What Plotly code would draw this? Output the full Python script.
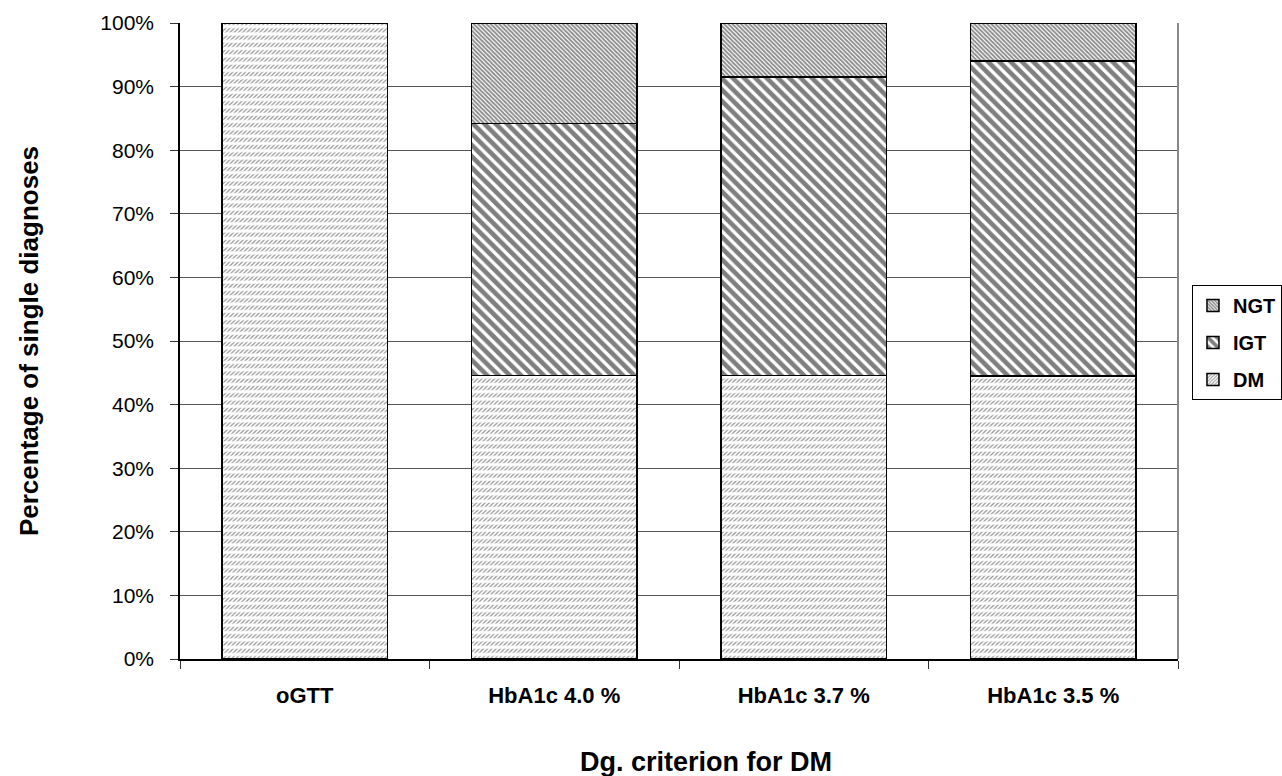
import plotly.graph_objects as go

# Diagnostic criterion categories and the share of each diagnosis (%)
categories = ["oGTT", "HbA1c 4.0 %", "HbA1c 3.7 %", "HbA1c 3.5 %"]
dm = [100.0, 44.6, 44.6, 44.5]
igt = [0.0, 39.6, 46.9, 49.5]
ngt = [0.0, 15.8, 8.5, 6.0]
y_ticks = [0, 10, 20, 30, 40, 50, 60, 70, 80, 90, 100]
y_tick_labels = [f"{v}%" for v in y_ticks]

BAR_GAP = 0.336
FONT = "Liberation Sans, Arial, sans-serif"
outline = dict(color="black", width=1.5)

fig = go.Figure()

# Stacked segments, bottom to top
fig.add_trace(go.Bar(
    name="DM", x=categories, y=dm, legendgroup="dm", legendrank=3,
    marker=dict(color="white", line=outline,
                pattern=dict(shape="/", fgcolor="#222222", bgcolor="white",
                             size=3, solidity=0.4))))
fig.add_trace(go.Bar(
    name="IGT", x=categories, y=igt, legendgroup="igt", legendrank=2,
    marker=dict(color="white", line=outline,
                pattern=dict(shape="\\", fgcolor="black", bgcolor="white",
                             size=8, solidity=0.58))))
fig.add_trace(go.Bar(
    name="NGT", x=categories, y=ngt, legendgroup="ngt", legendrank=1,
    marker=dict(color="white", line=outline,
                pattern=dict(shape="\\", fgcolor="#111111", bgcolor="white",
                             size=3, solidity=0.6))))

# White horizontal bands over the DM segment break the slashes into rows,
# with the DM outline redrawn on top
fig.add_trace(go.Bar(
    x=categories, y=dm, base=[0, 0, 0, 0], xaxis="x2", showlegend=False,
    hoverinfo="skip",
    marker=dict(color="rgba(0,0,0,0)", line=outline,
                pattern=dict(shape="-", fgcolor="white",
                             bgcolor="rgba(0,0,0,0)", size=7.3,
                             solidity=0.42, fillmode="replace"))))

fig.update_layout(
    width=1282, height=776,
    margin=dict(l=180, r=104, t=23, b=117, autoexpand=False),
    paper_bgcolor="white", plot_bgcolor="white",
    barmode="stack", bargap=BAR_GAP,
    font=dict(family=FONT, color="black"),
    xaxis=dict(
        type="category", tickson="boundaries", ticks="outside",
        ticklen=8, tickcolor="#333", showline=True, linecolor="black",
        linewidth=1.5, showgrid=False, ticklabelstandoff=16,
        tickfont=dict(size=22, family=FONT, weight="bold"),
    ),
    xaxis2=dict(type="category", overlaying="x", matches="x",
                visible=False),
    yaxis=dict(
        range=[0, 100], tickvals=y_ticks, ticktext=y_tick_labels,
        ticks="outside", ticklen=8, tickcolor="#333", showline=True,
        linecolor="black", linewidth=1.5, showgrid=True,
        gridcolor="#555555", gridwidth=1, zeroline=False,
        ticklabelstandoff=12, tickfont=dict(size=21),
        title=dict(text="<b>Percentage of single diagnoses</b>",
                   font=dict(size=26), standoff=54),
    ),
    legend=dict(
        x=1.014, y=0.588, xanchor="left", yanchor="top",
        bordercolor="black", borderwidth=1, bgcolor="white",
        font=dict(size=20, weight="bold"), traceorder="grouped",
        itemwidth=30, tracegroupgap=8,
    ),
    annotations=[dict(
        text="<b>Dg. criterion for DM</b>", xref="paper", yref="paper",
        x=0.527, y=-0.162, xanchor="center", yanchor="middle",
        showarrow=False, font=dict(size=27))],
    shapes=[dict(type="line", xref="paper", yref="paper", x0=1, x1=1,
                 y0=0, y1=1, line=dict(color="#888888", width=2))],
)

fig.write_html("out.html")
